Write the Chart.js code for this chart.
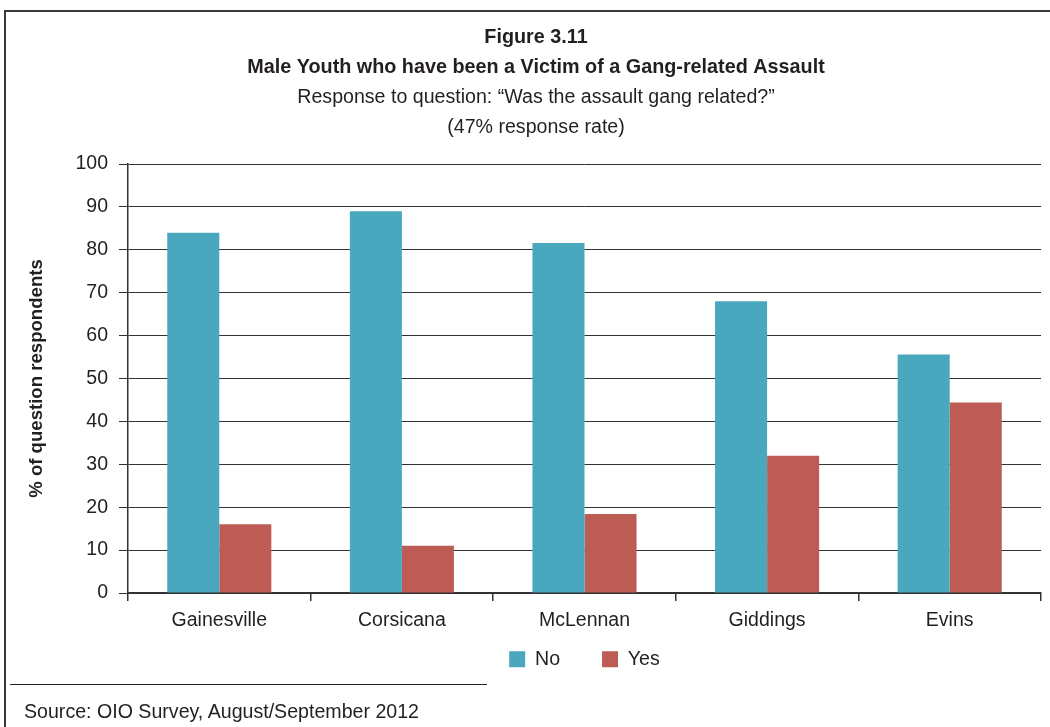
<!DOCTYPE html>
<html>
<head>
<meta charset="utf-8">
<script src="https://cdn.jsdelivr.net/npm/chart.js@4.4.1/dist/chart.umd.min.js"></script>
<style>
    html, body { margin: 0; padding: 0; background: #FFFFFF; }
    #wrap { position: relative; width: 1050px; height: 727px; overflow: hidden; }
    #frame {
        position: absolute; left: 4px; top: 10px; width: 1100px; height: 800px;
        border-left: 2px solid #3A3A3A; border-top: 2px solid #3A3A3A;
    }
    #chartBox { position: absolute; left: 0; top: 0; width: 1050px; height: 727px; }
    #rule { position: absolute; left: 10px; top: 684px; width: 477px; height: 0; border-top: 1px solid #222; }
    #source {
        position: absolute; left: 24px; top: 700px;
        font-family: 'Liberation Sans', Arial, sans-serif;
        font-size: 19.6px; color: #231F20;
    }
</style>
</head>
<body>
<div id="wrap">
    <div id="frame"></div>
    <div id="chartBox"><canvas id="assaultChart"></canvas></div>
    <div id="rule"></div>
    <div id="source">Source: OIO Survey, August/September 2012</div>
</div>
<script>
const sites = ['Gainesville', 'Corsicana', 'McLennan', 'Giddings', 'Evins'];
const noValues = [84, 89, 81.6, 68, 55.6];
const yesValues = [16, 11, 18.4, 32, 44.4];
const yTicks = [0, 10, 20, 30, 40, 50, 60, 70, 80, 90, 100];

const FONT = "'Liberation Sans', Arial, sans-serif";
const INK = '#231F20';
const LINE = '#333333';

Chart.defaults.font.family = FONT;
Chart.defaults.color = INK;

// legend padding is wide for the item gap; pull the row up closer to the axis labels
const legendLift = {
    id: 'legendLift',
    afterLayout(chart) {
        chart.legend.top -= 33;
        chart.legend.bottom -= 33;
    }
};

new Chart(document.getElementById('assaultChart').getContext('2d'), {
    type: 'bar',
    data: {
        labels: sites,
        datasets: [{
            label: 'No',
            data: noValues,
            backgroundColor: '#49A7BE',
            barPercentage: 1,
            categoryPercentage: 0.57
        }, {
            label: 'Yes',
            data: yesValues,
            backgroundColor: '#BD5B55',
            barPercentage: 1,
            categoryPercentage: 0.57
        }]
    },
    plugins: [legendLift],
    options: {
        responsive: true,
        maintainAspectRatio: false,
        animation: false,
        layout: { padding: { left: 31, right: 9, top: 8, bottom: 15 } },
        plugins: {
            title: {
                display: true,
                text: ['Figure 3.11', 'Male Youth who have been a Victim of a Gang-related Assault'],
                font: { size: 19.8, weight: 'bold', lineHeight: '30px' },
                color: INK,
                padding: { top: 15, bottom: 0 }
            },
            subtitle: {
                display: true,
                text: ['Response to question: \u201CWas the assault gang related?\u201D', '(47% response rate)'],
                font: { size: 19.6, lineHeight: '30px' },
                color: INK,
                padding: { top: 0, bottom: 21 }
            },
            legend: {
                position: 'bottom',
                fullSize: false,
                labels: {
                    boxWidth: 16,
                    boxHeight: 16,
                    padding: 42,
                    color: INK,
                    font: { size: 19.6 }
                }
            },
            tooltip: { enabled: false }
        },
        scales: {
            y: {
                min: 0,
                max: 100,
                afterBuildTicks: scale => { scale.ticks = yTicks.map(v => ({ value: v })); },
                afterFit: scale => { scale.width = 97; },
                ticks: { padding: 11, color: INK, font: { size: 19.5 } },
                grid: { color: LINE, lineWidth: 1, tickLength: 9 },
                border: { display: true, color: LINE, width: 1.5 },
                title: {
                    display: true,
                    text: '% of question respondents',
                    color: INK,
                    font: { size: 18.6, weight: 'bold' },
                    padding: { top: -5, bottom: 0 }
                }
            },
            x: {
                ticks: { padding: 8, color: INK, font: { size: 19.5 } },
                grid: { display: true, drawOnChartArea: false, color: LINE, lineWidth: 1.5, tickLength: 8 },
                border: { display: true, color: LINE, width: 1.5 }
            }
        }
    }
});
</script>
</body>
</html>
